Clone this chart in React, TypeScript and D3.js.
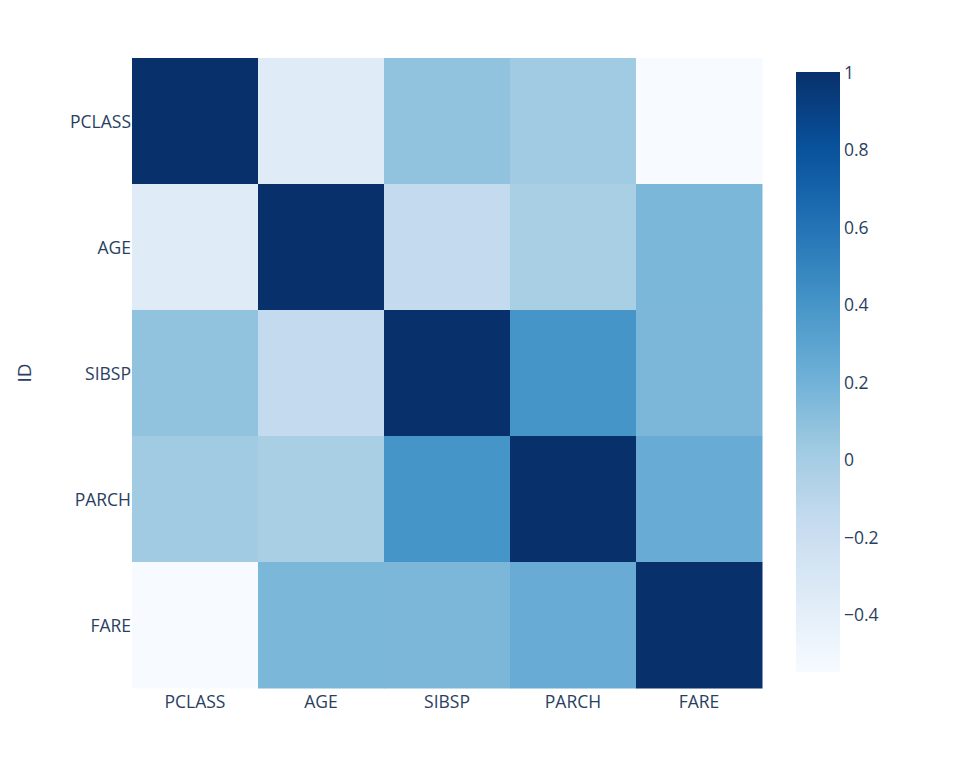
import React from "react";
import * as d3 from "d3";

const labels = ["PCLASS", "AGE", "SIBSP", "PARCH", "FARE"];
const corrPclass = [1, -0.36, 0.08, 0.015, -0.549];
const corrAge = [-0.36, 1, -0.15, -0.02, 0.165];
const corrSibsp = [0.08, -0.15, 1, 0.4, 0.16];
const corrParch = [0.015, -0.02, 0.4, 1, 0.24];
const corrFare = [-0.549, 0.165, 0.16, 0.24, 1];
const matrix = [corrPclass, corrAge, corrSibsp, corrParch, corrFare];
const colorbarTicks = [1, 0.8, 0.6, 0.4, 0.2, 0, -0.2, -0.4];
const blues = [
  "rgb(247,251,255)",
  "rgb(222,235,247)",
  "rgb(198,219,239)",
  "rgb(158,202,225)",
  "rgb(107,174,214)",
  "rgb(66,146,198)",
  "rgb(33,113,181)",
  "rgb(8,81,156)",
  "rgb(8,48,107)",
];

const W = 969;
const H = 760;
const plot = { x0: 132, x1: 762, y0: 58, y1: 688 };
const cb = { x0: 796, x1: 840, y0: 72, y1: 672 };
const textColor = "#2a3f5f";
const font = "'Open Sans', sans-serif";

export default function App() {
  const vmin = d3.min(matrix.flat()) as number;
  const vmax = d3.max(matrix.flat()) as number;
  const interp = d3.piecewise(d3.interpolateRgb, blues);
  const color = (v: number) => interp((v - vmin) / (vmax - vmin));

  const x = d3.scaleBand<string>().domain(labels).range([plot.x0, plot.x1]);
  const y = d3.scaleBand<string>().domain(labels).range([plot.y0, plot.y1]);
  const cbScale = d3.scaleLinear().domain([vmin, vmax]).range([cb.y1, cb.y0]);

  const stops = d3.range(0, 51).map((i) => i / 50);

  return (
    <svg
      width={W}
      height={H}
      style={{ position: "absolute", left: 0, top: 0, background: "#fff" }}
      fontFamily={font}
    >
      <defs>
        <linearGradient id="cbgrad" x1="0" y1="1" x2="0" y2="0">
          {stops.map((s) => (
            <stop key={s} offset={s} stopColor={interp(s)} />
          ))}
        </linearGradient>
      </defs>
      {matrix.map((row, i) =>
        row.map((v, j) => (
          <rect
            key={`${i}-${j}`}
            x={x(labels[j])}
            y={y(labels[i])}
            width={x.bandwidth() + 0.5}
            height={y.bandwidth() + 0.5}
            fill={color(v)}
          />
        ))
      )}
      {labels.map((l) => (
        <text
          key={"x" + l}
          x={(x(l) as number) + x.bandwidth() / 2}
          y={plot.y1 + 20}
          textAnchor="middle"
          fontSize={17.5}
          fill={textColor}
        >
          {l}
        </text>
      ))}
      {labels.map((l) => (
        <text
          key={"y" + l}
          x={plot.x0 - 1}
          y={(y(l) as number) + y.bandwidth() / 2}
          textAnchor="end"
          dominantBaseline="central"
          fontSize={17.5}
          fill={textColor}
        >
          {l}
        </text>
      ))}
      <text
        transform={`translate(31,${(plot.y0 + plot.y1) / 2}) rotate(-90)`}
        textAnchor="middle"
        fontSize={19}
        fill={textColor}
      >
        ID
      </text>
      <rect x={cb.x0} y={cb.y0} width={cb.x1 - cb.x0} height={cb.y1 - cb.y0} fill="url(#cbgrad)" />
      {colorbarTicks.map((t) => (
        <text
          key={"c" + t}
          x={cb.x1 + 4}
          y={cbScale(t)}
          dominantBaseline="central"
          fontSize={17.5}
          fill={textColor}
        >
          {t < 0 ? "\u2212" + Math.abs(t) : String(t)}
        </text>
      ))}
    </svg>
  );
}
